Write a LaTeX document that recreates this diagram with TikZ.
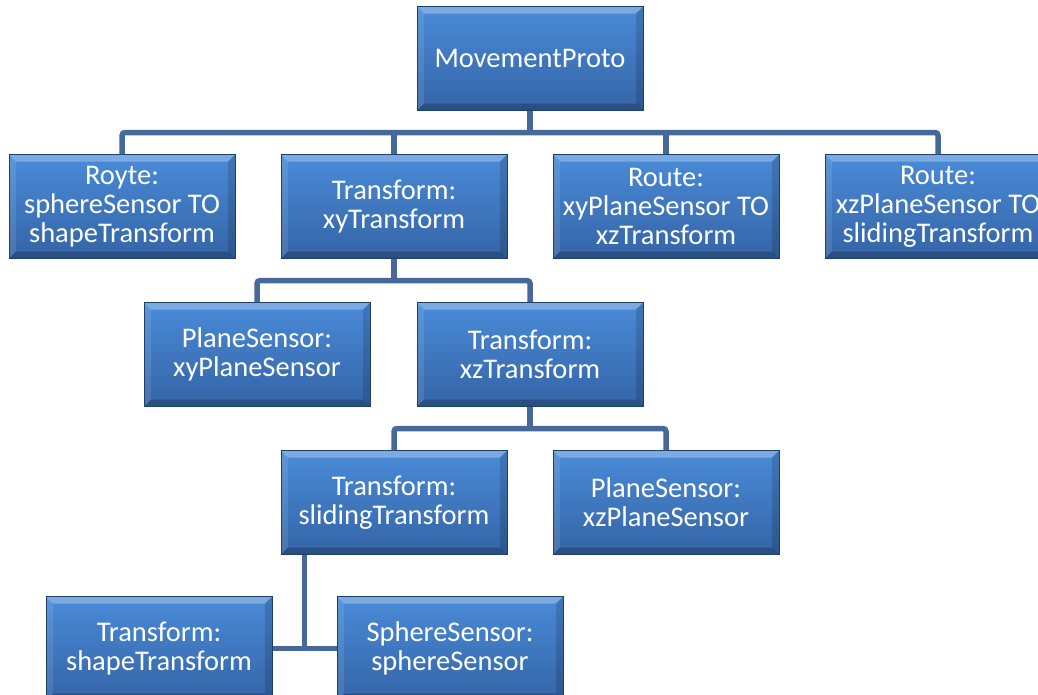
\documentclass[tikz,border=0pt]{standalone}
\usepackage{fontspec}
\setmainfont{Carlito}
\usetikzlibrary{positioning}
\usepackage{xcolor}
\definecolor{boxtop}{HTML}{4A8BD8}
\definecolor{boxbot}{HTML}{3464A6}
\definecolor{boxline}{HTML}{1F3F6B}
\definecolor{linkcol}{HTML}{46699A}

\begin{document}
\begin{tikzpicture}[
        node distance=43pt and 45pt,
        box/.style={rectangle, draw=boxline, line width=1pt, minimum width=226pt, minimum height=104pt, inner sep=0pt, align=center, text=white, font=\fontsize{28.5}{29}\selectfont, top color=boxtop, bottom color=boxbot,
            path picture={
                \fill[white, opacity=0.28] (path picture bounding box.north west) -- (path picture bounding box.north east) -- ([shift={(-7pt,-7pt)}]path picture bounding box.north east) -- ([shift={(7pt,-7pt)}]path picture bounding box.north west) -- cycle;
                \fill[white, opacity=0.10] (path picture bounding box.north west) -- ([shift={(7pt,-7pt)}]path picture bounding box.north west) -- ([shift={(7pt,7pt)}]path picture bounding box.south west) -- (path picture bounding box.south west) -- cycle;
                \fill[black, opacity=0.14] (path picture bounding box.north east) -- ([shift={(-7pt,-7pt)}]path picture bounding box.north east) -- ([shift={(-7pt,7pt)}]path picture bounding box.south east) -- (path picture bounding box.south east) -- cycle;
                \fill[black, opacity=0.22] (path picture bounding box.south west) -- (path picture bounding box.south east) -- ([shift={(-7pt,7pt)}]path picture bounding box.south east) -- ([shift={(7pt,7pt)}]path picture bounding box.south west) -- cycle;
            }},
        link/.style={draw=linkcol, line width=5.5pt, rounded corners=3pt}
    ]

    \useasboundingbox (0,0) rectangle (1038pt,-694pt);

    % Top
    \node[box] (proto) at (530pt,-58.5pt) {MovementProto};

    % Row 1
    \node[box, below=43pt of proto, xshift=-136pt] (xyT) {Transform:\\xyTransform};
    \node[box, left=of xyT] (royte) {Royte:\\sphereSensor TO\\shapeTransform};
    \node[box, right=of xyT] (routeA) {Route:\\xyPlaneSensor TO\\xzTransform};
    \node[box, right=of routeA] (routeB) {Route:\\xzPlaneSensor TO\\slidingTransform};

    % Row 2
    \node[box, below=43pt of xyT, xshift=136pt] (xzT) {Transform:\\xzTransform};
    \node[box, left=46pt of xzT] (xyPS) {PlaneSensor:\\xyPlaneSensor};

    % Row 3
    \node[box, below=43pt of xzT, xshift=-136pt] (slideT) {Transform:\\slidingTransform};
    \node[box, right=of slideT] (xzPS) {PlaneSensor:\\xzPlaneSensor};

    % Row 4
    \node[box, below=41pt of slideT, xshift=56pt] (sphS) {SphereSensor:\\sphereSensor};
    \node[box, left=64pt of sphS] (shapeT) {Transform:\\shapeTransform};

    % Links
    \draw[link] (proto.south) -- ++(0,-21.5pt) coordinate (bus1);
    \draw[link] (royte.north) |- (bus1) -| (routeB.north);
    \draw[link] (xyT.north) -- (xyT.north |- bus1);
    \draw[link] (routeA.north) -- (routeA.north |- bus1);

    \draw[link] (xyT.south) -- ++(0,-21.5pt) coordinate (bus2);
    \draw[link] (xyPS.north) |- (bus2) -| (xzT.north);

    \draw[link] (xzT.south) -- ++(0,-21.5pt) coordinate (bus3);
    \draw[link] (slideT.north) |- (bus3) -| (xzPS.north);

    \draw[link] ([xshift=24pt]slideT.south west) coordinate (drop) -- (drop |- shapeT.east);
    \draw[link] (shapeT.east) -- (sphS.west);

\end{tikzpicture}
\end{document}
